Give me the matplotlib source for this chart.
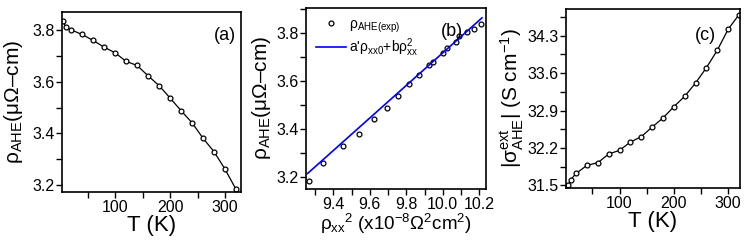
import numpy as np
import matplotlib
matplotlib.use('Agg')
import matplotlib.pyplot as plt
from matplotlib.ticker import MultipleLocator

plt.rcParams['font.family'] = ['Liberation Sans', 'DejaVu Sans']
plt.rcParams['mathtext.fontset'] = 'custom'
plt.rcParams['mathtext.rm'] = 'Liberation Sans'
plt.rcParams['mathtext.it'] = 'Liberation Sans:italic'
plt.rcParams['mathtext.bf'] = 'Liberation Sans:bold'

# (a) rho_AHE vs T
T = [5, 10, 20, 40, 60, 80, 100, 120, 140, 160, 180, 200, 220, 240, 260, 280, 300, 320]
rho_ahe = [3.836, 3.813, 3.801, 3.783, 3.760, 3.734, 3.712, 3.679, 3.663, 3.623,
           3.585, 3.537, 3.488, 3.441, 3.381, 3.329, 3.261, 3.183]

# (b) rho_AHE vs rho_xx^2
rho_xx2 = [9.268, 9.345, 9.451, 9.543, 9.621, 9.694, 9.753, 9.817, 9.868, 9.923,
           9.948, 10.000, 10.021, 10.071, 10.087, 10.134, 10.171, 10.208]
rho_ahe_b = [3.186, 3.261, 3.331, 3.381, 3.443, 3.489, 3.539, 3.588, 3.624, 3.666,
             3.680, 3.715, 3.737, 3.761, 3.785, 3.803, 3.814, 3.838]
fit_x = [9.258, 10.215]
fit_y = [3.215, 3.862]

# (c) |sigma_AHE^ext| vs T
sigma_ext = [31.500, 31.606, 31.724, 31.874, 31.924, 32.086, 32.155, 32.310, 32.410,
             32.590, 32.760, 32.970, 33.165, 33.414, 33.700, 34.025, 34.418, 34.692]

fig = plt.figure(figsize=(7.47, 2.5), dpi=100)
ax1 = fig.add_axes([62/747, 1 - 192/250, 179/747, 180/250])
ax2 = fig.add_axes([306/747, 1 - 189/250, 180/747, 181.5/250])
ax3 = fig.add_axes([566/747, 1 - 188/250, 174/747, 179/250])

mk = dict(marker='o', mfc='white', mec='black', ms=3.5, mew=0.9)

ax1.plot(T, rho_ahe, color='black', lw=0.9, **mk)
ax1.set_xlim(3.5, 329)
ax1.set_ylim(3.173, 3.870)
ax1.xaxis.set_major_locator(MultipleLocator(100))
ax1.xaxis.set_minor_locator(MultipleLocator(50))
ax1.yaxis.set_major_locator(MultipleLocator(0.2))
ax1.yaxis.set_minor_locator(MultipleLocator(0.1))
ax1.set_xlabel('T (K)', fontsize=16, labelpad=0)
ax1.set_ylabel(r'$\mathrm{ρ_{AHE}}$(μΩ–cm)', fontsize=15, labelpad=5)
ax1.text(0.97, 0.87, '(a)', transform=ax1.transAxes, ha='right', va='center', fontsize=13)

ax2.plot(rho_xx2, rho_ahe_b, ls='none', label=r'$\mathrm{ρ_{AHE(exp)}}$', **mk)
ax2.plot(fit_x, fit_y, color='#0000ff', lw=1.2, label=r"a'ρ$_{\mathrm{xx0}}$+bρ$^{2}_{\mathrm{xx}}$")
ax2.set_xlim(9.25, 10.237)
ax2.set_ylim(3.151, 3.905)
ax2.xaxis.set_major_locator(MultipleLocator(0.2))
ax2.xaxis.set_minor_locator(MultipleLocator(0.1))
ax2.yaxis.set_major_locator(MultipleLocator(0.2))
ax2.yaxis.set_minor_locator(MultipleLocator(0.1))
ax2.set_xlabel(r'$\mathrm{ρ_{xx}}^{2}$ (x10$^{-8}$Ω$^{2}$cm$^{2}$)', fontsize=13.5, labelpad=0)
ax2.set_ylabel(r'$\mathrm{ρ_{AHE}}$(μΩ–cm)', fontsize=15, labelpad=2)
ax2.text(0.81, 0.87, '(b)', transform=ax2.transAxes, ha='center', va='center', fontsize=13)
ax2.legend(loc='upper left', frameon=False, fontsize=10, handlelength=2.2,
           borderaxespad=0.3, labelspacing=0.1, handletextpad=0.2,
           bbox_to_anchor=(0.0, 1.0))

ax3.plot(T, sigma_ext, color='black', lw=0.9, **mk)
ax3.set_xlim(1.3, 322)
ax3.set_ylim(31.45, 34.80)
ax3.xaxis.set_major_locator(MultipleLocator(100))
ax3.xaxis.set_minor_locator(MultipleLocator(50))
ax3.yaxis.set_minor_locator(MultipleLocator(0.35))
ax3.set_yticks([31.5, 32.2, 32.9, 33.6, 34.3])
ax3.set_xlabel('T (K)', fontsize=16, labelpad=0)
ax3.set_ylabel(r'$|\mathrm{σ^{ext}_{AHE}}|$ (S cm$^{-1}$)', fontsize=15, labelpad=1)
ax3.text(0.86, 0.85, '(c)', transform=ax3.transAxes, ha='right', va='center', fontsize=13)

for ax in (ax1, ax2, ax3):
    for s in ax.spines.values():
        s.set_linewidth(1.2)
    ax.tick_params(which='both', direction='out', top=False, right=False,
                   labelsize=11.5, width=1.0, pad=1.5)
    ax.tick_params(which='major', length=4)
    ax.tick_params(which='minor', length=4)

fig.savefig('out.png', dpi=100)
